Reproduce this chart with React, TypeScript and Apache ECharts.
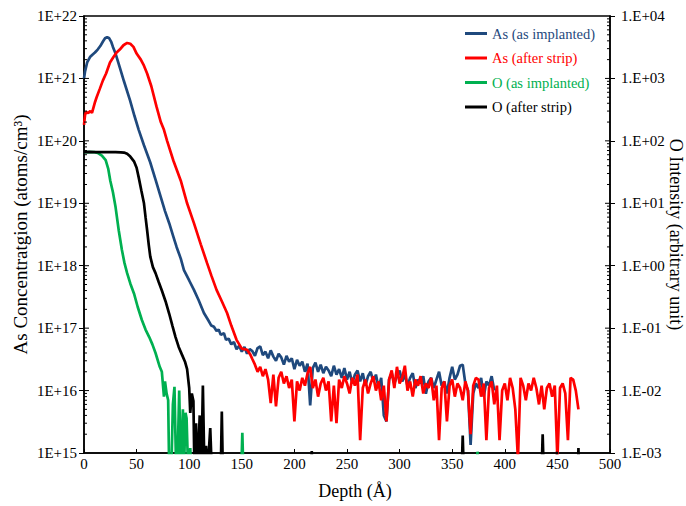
import React, { useEffect, useRef } from "react";
import * as echarts from "echarts";

const FONT = "'Liberation Serif', 'Times New Roman', serif";

// Legend / series names
const seriesNames = ["As (as implanted)", "As (after strip)", "O (as implanted)", "O (after strip)"];
const seriesColors = ["#1F497D", "#FF0000", "#00B050", "#000000"];

// X axis
const xTicks = { min: 0, max: 500, interval: 50 };

// As (as implanted) – smooth part [depth Å, atoms/cm3]
const asImplSmooth: [number, number][] = [
  [0, 1.0e21], [1, 1.3e21], [3, 1.8e21], [5.7, 2.2e21], [8, 2.4e21], [10.4, 2.6e21],
  [13, 2.9e21], [15.5, 3.3e21], [18, 3.9e21], [20, 4.4e21], [22, 4.6e21], [24, 4.4e21],
  [26, 3.8e21], [27.5, 3.2e21], [30, 2.5e21], [34, 1.5e21], [38, 9.0e20], [43.7, 4.5e20],
  [48, 2.5e20], [52, 1.5e20], [57, 8.5e19], [63, 4.5e19], [68, 2.4e19], [73, 1.26e19],
  [77, 7.5e18], [81, 4.8e18], [85, 2.9e18], [88, 2.0e18], [92, 1.3e18], [95, 8.5e17],
  [100, 5.8e17], [104.5, 4.1e17], [109, 2.8e17], [114, 1.75e17], [118, 1.35e17],
  [121, 1.1e17], [123.5, 1.05e17], [126, 9.0e16], [128, 9.5e16], [130, 7.8e16],
  [133, 8.3e16], [135, 6.5e16], [137.5, 6.8e16],
];
// As (as implanted) – noisy tail, sampled every 2.5 Å from 140 Å
const asImplNoiseStart = 140;
const asImplNoise = [
  5.5e16, 6.0e16, 4.6e16, 5.2e16, 4.2e16, 5.0e16, 3.9e16, 4.6e16, 4.3e16, 3.6e16,
  4.8e16, 5.1e16, 3.7e16, 4.2e16, 3.3e16, 4.4e16, 3.5e16, 3.0e16, 3.9e16, 3.4e16,
  2.6e16, 3.6e16, 2.9e16, 3.3e16, 2.2e16, 3.1e16, 2.5e16, 2.9e16, 2.0e16, 2.7e16,
  5.8e15, 2.3e16, 2.8e16, 2.0e16, 2.6e16, 1.9e16, 2.4e16, 2.1e16, 1.7e16, 2.5e16,
  1.8e16, 2.2e16, 1.6e16, 2.3e16, 1.5e16, 2.0e16, 1.3e16, 1.8e16, 2.1e16, 1.4e16,
  1.9e16, 1.2e16, 1.7e16, 2.0e16, 1.4e16, 1.8e16, 1.1e16, 1.6e16, 4.0e15, 3.2e15,
  1.5e16, 1.9e16, 1.3e16, 1.7e16, 2.1e16, 1.4e16, 1.8e16, 1.2e16, 1.6e16, 1.9e16,
  1.1e16, 1.5e16, 1.3e16, 1.7e16, 8.9e15, 1.4e16, 1.6e16, 1.1e16, 1.5e16, 2.0e16,
  1.2e16, 1.4e16, 9.0e15, 1.6e16, 2.4e16, 1.5e16, 1.8e16, 2.5e16, 2.6e16, 1.3e16,
  1.0e16, 1.35e15, 9.0e15, 1.3e16, 1.1e16, 1.6e16, 8.0e15, 1.4e16, 1.2e16, 1.7e16,
  1.0e16,
];

// As (after strip) – smooth part
const asStripSmooth: [number, number][] = [
  [0, 1.8e20], [1, 2.6e20], [2, 2.9e20], [4, 2.8e20], [6, 3.0e20], [7.6, 2.8e20],
  [9, 3.4e20], [10.5, 4.2e20], [12, 5.0e20], [15, 6.8e20], [18, 9.3e20], [21, 1.2e21],
  [24.7, 1.8e21], [28, 2.2e21], [31, 2.6e21], [34, 2.9e21], [37.5, 3.4e21], [41, 3.7e21],
  [44, 3.6e21], [47, 3.2e21], [50, 2.5e21], [54, 2.0e21], [57, 1.6e21], [60, 1.2e21],
  [64, 7.5e20], [69, 3.5e20], [73, 2.0e20], [76, 1.5e20], [79, 1.0e20], [85, 4.8e19],
  [92, 2.3e19], [98, 1.0e19], [104.5, 4.8e18], [111, 2.2e18], [117, 1.1e18], [121, 7.0e17],
  [126, 4.1e17], [131, 2.7e17], [136, 1.75e17], [140, 1.1e17], [145, 6.5e16],
  [150, 4.7e16], [155, 4.5e16], [158, 3.8e16], [160, 3.2e16],
];
// As (after strip) – noisy tail, every 2.5 Å from 162.5 Å
const asStripNoiseStart = 162.5;
const asStripNoise = [
  2.6e16, 2.0e16, 2.4e16, 1.7e16, 2.2e16, 1.5e16, 6.3e15, 1.8e16, 5.6e15, 1.6e16,
  2.0e16, 1.3e16, 1.7e16, 1.1e16, 1.5e16, 3.2e15, 1.4e16, 1.0e16, 1.6e16, 1.2e16,
  1.9e16, 2.4e16, 1.1e16, 1.5e16, 8.0e15, 1.3e16, 1.6e16, 1.0e16, 1.4e16, 3.2e15,
  1.2e16, 3.0e15, 1.5e16, 1.1e16, 1.7e16, 1.3e16, 9.0e15, 1.6e16, 1.2e16, 1.8e16,
  1.6e15, 1.1e16, 1.5e16, 9.0e15, 1.3e16, 1.7e16, 1.0e16, 1.4e16, 7.0e15, 1.2e16,
  3.2e15, 1.5e16, 2.1e16, 1.1e16, 2.4e16, 1.3e16, 1.6e16, 2.5e16, 1.0e16, 1.4e16,
  8.0e15, 1.5e16, 1.2e16, 1.7e16, 9.0e15, 1.3e16, 1.1e16, 1.6e16, 7.0e15, 1.2e16,
  1.6e15, 1.1e16, 1.4e16, 3.2e15, 1.2e16, 1.5e16, 8.0e15, 1.3e16, 1.1e16, 7.0e15,
  1.4e16, 1.0e16, 2.0e15, 1.2e16, 1.6e16, 1.5e16, 8.0e15, 1.3e16, 1.6e15, 1.1e16,
  1.4e16, 6.0e15, 1.2e16, 1.6e15, 1.0e16, 1.3e16, 7.0e15, 1.6e16, 1.1e16, 5.0e15,
  8.0e14, 1.6e16, 1.2e16, 7.0e15, 1.3e16, 1.0e16, 1.6e16, 1.1e16, 6.0e15, 1.2e16,
  5.0e15, 1.1e16, 1.3e16, 8.0e15, 1.2e16, 8.0e14, 1.1e16, 1.3e16, 9.0e15, 1.6e15,
  1.6e16, 1.5e16, 1.0e16, 5.0e15,
];

// O (as implanted) – right axis, arbitrary units
const oImpl: [number, number][] = [
  [0, 66], [5, 66], [10, 66], [13, 64], [17, 58], [20.6, 49], [23, 36], [25, 23],
  [27.5, 15], [30, 8.7], [33, 3.7], [36, 1.8], [38.5, 1.1], [41, 0.76], [44, 0.52],
  [47.5, 0.36], [51, 0.22], [55, 0.135], [58.5, 0.095], [62, 0.072], [65, 0.055],
  [68, 0.04], [72, 0.024], [74, 0.02], [76, 0.008], [77, 0.014], [78.5, 0.009],
  [80, 0.007], [81, 0.0005], [83, 0.0005], [84.5, 0.006], [86, 0.0115], [87.5, 0.0006],
  [89, 0.0008], [90.5, 0.01], [92, 0.0005], [94, 0.005], [95, 0.0005], [96.5, 0.0044],
  [97.5, 0.0036], [99, 0.0005], [101, 0.0012], [102, 0.0005], [149.5, 0.0005],
  [150.5, 0.0021], [151.5, 0.0005], [373.5, 0.0005], [374, 0.00105], [375, 0.0005],
];

// O (after strip) – right axis, arbitrary units
const oStrip: [number, number][] = [
  [0, 66], [5, 66.5], [10, 66], [15, 66], [20, 66], [25, 66], [30, 66], [35, 65.5],
  [38, 65], [41, 62], [44, 56], [47.5, 47], [50, 37], [52, 26], [54.5, 16], [57, 10],
  [58.5, 6], [60, 3.7], [61.5, 2.2], [63, 1.4], [65.5, 0.95], [68, 0.76], [71, 0.55],
  [74, 0.4], [77.5, 0.27], [81, 0.17], [84, 0.11], [87, 0.072], [90, 0.05], [93, 0.038],
  [96, 0.029], [98, 0.022], [100, 0.011], [101, 0.0044], [102.5, 0.009], [104, 0.0068],
  [105, 0.0005], [106.5, 0.003], [108, 0.0005], [110, 0.004], [111.5, 0.0005],
  [113, 0.012], [114.5, 0.0005], [116, 0.0013], [117.5, 0.0005], [120, 0.0025],
  [121.5, 0.0005], [130, 0.0005], [131, 0.0046], [132, 0.0005], [216, 0.0005],
  [216.5, 0.00108], [217, 0.0005], [359, 0.0005], [360, 0.0019], [361, 0.0005],
  [435, 0.0005], [436, 0.002], [437, 0.0005], [449, 0.0005], [449.5, 0.00105],
  [450, 0.0005], [469.5, 0.0005], [470, 0.0012], [470.5, 0.0005],
];

// Axis ranges (decades)
const leftRange = { min: 1e15, max: 1e22 };
const rightRange = { min: 1e-3, max: 1e4 };
const decadeExps = [15, 16, 17, 18, 19, 20, 21];
const minorMultipliers = [2, 3, 4, 5, 6, 7, 8, 9];

function withNoise(smooth: [number, number][], start: number, values: number[]): [number, number][] {
  const out: [number, number][] = smooth.slice();
  values.forEach((v, i) => out.push([start + i * 2.5, v]));
  return out;
}

export default function App() {
  const ref = useRef<HTMLDivElement>(null);

  useEffect(() => {
    if (!ref.current) return;
    const chart = echarts.init(ref.current, undefined, { renderer: "svg" });

    const minorTickData: [number, number][] = [];
    decadeExps.forEach((e) => {
      minorMultipliers.forEach((m) => minorTickData.push([0, m * Math.pow(10, e)]));
    });
    const majorTickData: [number, number][] = decadeExps.slice(1).map((e) => [0, Math.pow(10, e)]);

    const tickRender = (len: number) => (params: any, api: any) => {
      const v = api.value(1);
      const pl = api.coord([xTicks.min, v]);
      const pr = api.coord([xTicks.max, v]);
      const style = { stroke: "#000", lineWidth: 1 };
      return {
        type: "group",
        children: [
          { type: "line", shape: { x1: pl[0], y1: pl[1], x2: pl[0] + len, y2: pl[1] }, style },
          { type: "line", shape: { x1: pr[0] - len, y1: pr[1], x2: pr[0], y2: pr[1] }, style },
        ],
      };
    };

    const lineSeries = (name: string, color: string, data: [number, number][], yAxisIndex: number) => ({
      name,
      type: "line",
      yAxisIndex,
      data,
      symbol: "none",
      showSymbol: false,
      clip: true,
      lineStyle: { color, width: 2.7 },
      itemStyle: { color },
      z: 3,
    });

    const expStr = (v: number) => Math.round(Math.log10(v));

    chart.setOption({
      animation: false,
      backgroundColor: "#ffffff",
      textStyle: { fontFamily: FONT },
      grid: {
        left: 84,
        right: 76,
        top: 16,
        bottom: 53,
        outerBoundsMode: "none",
        containLabel: false,
        show: true,
        borderColor: "#000",
        borderWidth: 1.5,
        backgroundColor: "transparent",
      },
      legend: {
        orient: "vertical",
        left: 465,
        top: 26,
        padding: 0,
        icon: "rect",
        itemWidth: 22,
        itemHeight: 3,
        itemGap: 9.5,
        textStyle: { fontFamily: FONT, fontSize: 14.5 },
        data: seriesNames.map((n, i) => ({ name: n, textStyle: { color: seriesColors[i] } })),
      },
      xAxis: {
        type: "value",
        min: xTicks.min,
        max: xTicks.max,
        interval: xTicks.interval,
        name: "Depth (Å)",
        nameLocation: "middle",
        nameGap: 29,
        nameMoveOverlap: false,
        nameTextStyle: { fontFamily: FONT, fontSize: 18, color: "#000", padding: [0, 0, 0, 16] },
        axisLine: { lineStyle: { color: "#000", width: 1.5 } },
        axisTick: { inside: true, length: 4, lineStyle: { color: "#000" } },
        axisLabel: { fontFamily: FONT, fontSize: 15, color: "#000", margin: 3 },
        splitLine: { show: false },
      },
      yAxis: [
        {
          type: "log",
          logBase: 10,
          min: leftRange.min,
          max: leftRange.max,
          splitNumber: 7,
          position: "left",
          name: "As Concentratgion (atoms/cm³)",
          nameLocation: "middle",
          nameGap: 54,
          nameMoveOverlap: false,
          nameTextStyle: { fontFamily: FONT, fontSize: 19, color: "#000" },
          axisLine: { show: true, lineStyle: { color: "#000", width: 1.5 } },
          axisTick: { show: true, inside: false, length: 5, lineStyle: { color: "#000" } },
          axisLabel: {
            fontFamily: FONT,
            fontSize: 15,
            color: "#000",
            margin: 7,
            formatter: (v: number) => "1E+" + expStr(v),
          },
          splitLine: { show: false },
        },
        {
          type: "log",
          logBase: 10,
          min: rightRange.min,
          max: rightRange.max,
          splitNumber: 7,
          position: "right",
          name: "O Intensity (arbitrary unit)",
          nameLocation: "middle",
          nameRotate: -90,
          nameGap: 57,
          nameMoveOverlap: false,
          nameTextStyle: { fontFamily: FONT, fontSize: 18, color: "#000" },
          axisLine: { show: true, lineStyle: { color: "#000", width: 1.5 } },
          axisTick: { show: true, inside: false, length: 5, lineStyle: { color: "#000" } },
          axisLabel: {
            fontFamily: FONT,
            fontSize: 15,
            color: "#000",
            margin: 11,
            formatter: (v: number) => {
              const e = expStr(v);
              const a = Math.abs(e);
              return "1.E" + (e < 0 ? "-" : "+") + (a < 10 ? "0" + a : "" + a);
            },
          },
          splitLine: { show: false },
        },
      ],
      series: [
        lineSeries(seriesNames[0], seriesColors[0], withNoise(asImplSmooth, asImplNoiseStart, asImplNoise), 0),
        lineSeries(seriesNames[1], seriesColors[1], withNoise(asStripSmooth, asStripNoiseStart, asStripNoise), 0),
        lineSeries(seriesNames[2], seriesColors[2], oImpl, 1),
        lineSeries(seriesNames[3], seriesColors[3], oStrip, 1),
        {
          type: "custom",
          name: "minorTicks",
          yAxisIndex: 0,
          silent: true,
          clip: false,
          data: minorTickData,
          renderItem: tickRender(3),
          z: 5,
        },
        {
          type: "custom",
          name: "majorTicksInner",
          yAxisIndex: 0,
          silent: true,
          clip: false,
          data: majorTickData,
          renderItem: tickRender(5),
          z: 5,
        },
      ],
    });

    return () => chart.dispose();
  }, []);

  return (
    <div
      ref={ref}
      style={{ position: "fixed", left: 0, top: 0, width: 686, height: 506, background: "#fff" }}
    />
  );
}
